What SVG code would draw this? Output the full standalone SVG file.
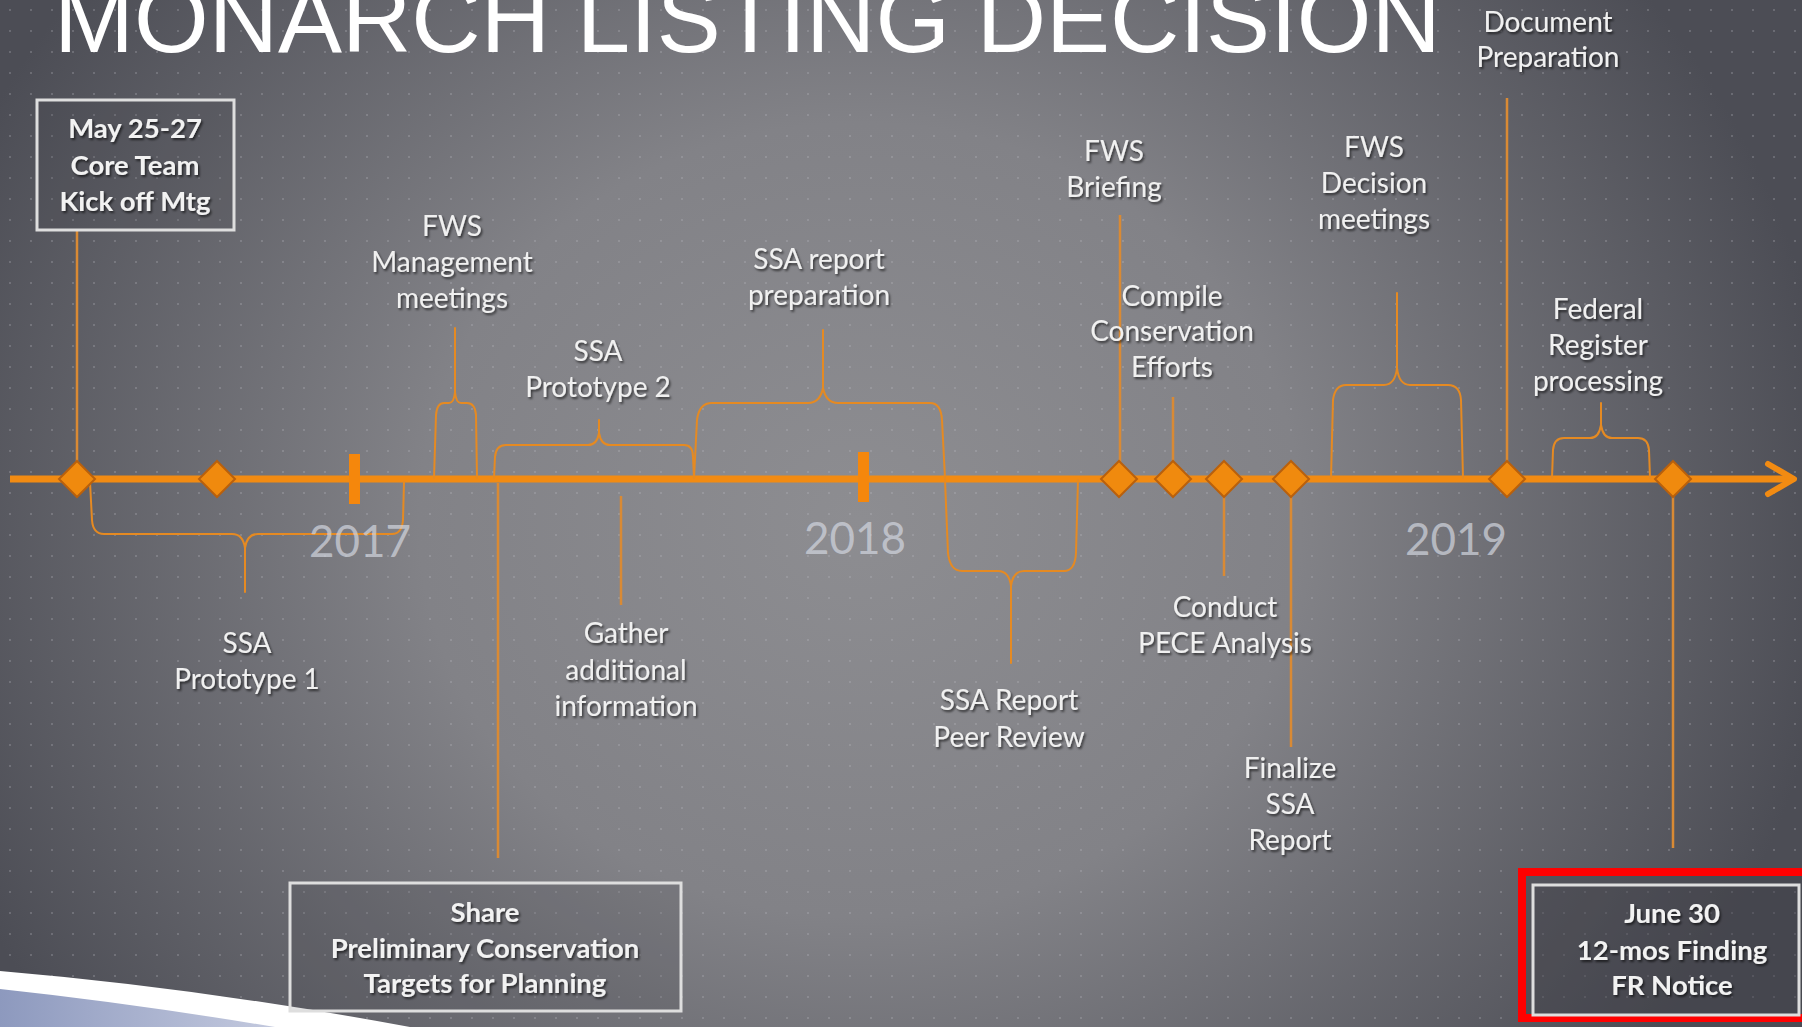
<svg xmlns="http://www.w3.org/2000/svg" width="1802" height="1027" viewBox="0 0 1802 1027">
  <defs>
    <radialGradient id="bg" gradientUnits="userSpaceOnUse" cx="860" cy="520" r="980" gradientTransform="translate(860 520) scale(1 0.9) translate(-860 -520)">
      <stop offset="0" stop-color="#8d8d91"/>
      <stop offset="0.45" stop-color="#828287"/>
      <stop offset="1" stop-color="#4c4d55"/>
    </radialGradient>
    <pattern id="dots" width="21" height="21" patternUnits="userSpaceOnUse">
      <circle cx="10" cy="10" r="1" fill="#c0c0c6" fill-opacity="0.35"/>
    </pattern>
    <linearGradient id="swoosh" x1="0" y1="0" x2="1" y2="0">
      <stop offset="0" stop-color="#8d99be"/>
      <stop offset="1" stop-color="#c3c9de"/>
    </linearGradient>
    <filter id="sh" x="-10%" y="-30%" width="120%" height="160%">
      <feDropShadow dx="1.5" dy="2" stdDeviation="1.2" flood-color="#000" flood-opacity="0.6"/>
    </filter>
    <style>
      .lbl { font-family: Lato, "Open Sans", sans-serif; font-size: 28px; fill: #f0f0f0; text-anchor: middle; filter: url(#sh); }
      .blbl { font-family: Lato, "Open Sans", sans-serif; font-size: 27.5px; font-weight: bold; fill: #f2f2f2; text-anchor: middle; filter: url(#sh); }
      .year { font-family: Lato, "Open Sans", sans-serif; font-size: 44px; fill: #d3d7e0; fill-opacity: 0.7; text-anchor: middle; }
      .box { fill: #3a3b44; fill-opacity: 0.15; stroke: #dedede; stroke-width: 3; }
      .brace { fill: none; stroke: #e58a22; stroke-width: 2; stroke-linejoin: round; stroke-linecap: round; }
      .stem { fill: none; stroke: #d98a34; stroke-width: 2.5; }
      .dia { fill: #f08a0e; stroke: #b9600c; stroke-width: 2; }
      .tick { fill: #f5870c; }
    </style>
  </defs>

  <rect x="0" y="0" width="1802" height="1027" fill="url(#bg)"/>
  <rect x="0" y="0" width="1802" height="1027" fill="url(#dots)"/>

  <g id="swoosh-deco">
    <path d="M0,971 Q200,988 410,1027 L0,1027 Z" fill="#ffffff"/>
    <path d="M0,989 Q130,1003 275,1027 L0,1027 Z" fill="url(#swoosh)"/>
  </g>

  <g id="title">
    <text x="54" y="52" font-family="'Liberation Sans', Arial, sans-serif" font-size="96" fill="#ffffff">MONARCH LISTING DECISION</text>
  </g>

  <g id="timeline">
    <line x1="10" y1="479" x2="1790" y2="479" stroke="#f28b12" stroke-width="7"/>
    <polyline points="1768,464 1794,479 1768,494" fill="none" stroke="#f28b12" stroke-width="6" stroke-linejoin="round" stroke-linecap="round"/>
    <rect class="tick" x="349" y="454" width="11" height="50"/>
    <rect class="tick" x="858" y="452" width="11" height="50"/>
  </g>

  <g id="connectors">
    <line class="stem" x1="77" y1="230" x2="77" y2="462"/>
    <line class="stem" x1="498" y1="483" x2="498" y2="858"/>
    <line class="stem" x1="621" y1="496" x2="621" y2="605"/>
    <line class="stem" x1="1120" y1="215" x2="1120" y2="462"/>
    <line class="stem" x1="1173" y1="397" x2="1173" y2="462"/>
    <line class="stem" x1="1224" y1="496" x2="1224" y2="576"/>
    <line class="stem" x1="1291" y1="496" x2="1291" y2="747"/>
    <line class="stem" x1="1507" y1="98" x2="1507" y2="462"/>
    <line class="stem" x1="1673" y1="496" x2="1673" y2="848"/>

    <!-- SSA Prototype 1 (below) -->
    <path class="brace" d="M90,482 L92,520 Q93,534 104,534 L232,534 Q243,534 245,548 L245,592 M245,548 Q247,534 258,534 L392,534 Q402,534 403,520 L404,482"/>
    <!-- FWS Management meetings (above) -->
    <path class="brace" d="M434,478 L436,415 Q437,403 444,403 L449,403 Q454,403 455,392 L455,328 M455,392 Q456,403 461,403 L467,403 Q475,403 476,415 L477,478"/>
    <!-- SSA Prototype 2 (above) -->
    <path class="brace" d="M494,478 L495,457 Q496,445 506,445 L588,445 Q597,445 599,433 L599,420 M599,433 Q601,445 610,445 L684,445 Q693,445 693,457 L694,478"/>
    <!-- SSA report preparation (above) -->
    <path class="brace" d="M694,478 L697,420 Q699,403 712,403 L808,403 Q820,403 823,388 L823,330 M823,388 Q826,403 838,403 L930,403 Q941,403 942,420 L945,478"/>
    <!-- SSA Report Peer Review (below) -->
    <path class="brace" d="M945,480 L948,553 Q950,571 962,571 L998,571 Q1009,571 1011,586 L1011,663 M1011,586 Q1013,571 1024,571 L1064,571 Q1075,571 1076,553 L1078,480"/>
    <!-- FWS Decision meetings (above) -->
    <path class="brace" d="M1331,478 L1333,400 Q1335,385 1346,385 L1384,385 Q1395,385 1397,368 L1397,293 M1397,368 Q1399,385 1410,385 L1448,385 Q1460,385 1461,400 L1463,478"/>
    <!-- Federal Register processing (above) -->
    <path class="brace" d="M1552,478 L1553,450 Q1554,438 1564,438 L1590,438 Q1599,438 1601,425 L1601,403 M1601,425 Q1603,438 1612,438 L1638,438 Q1648,438 1649,450 L1650,478"/>
  </g>

  <g id="milestones">
    <polygon id="m1" class="dia" points="77,461 95,479 77,497 59,479"/>
    <polygon id="m2" class="dia" points="217,461 235,479 217,497 199,479"/>
    <polygon id="m3" class="dia" points="1119,461 1137,479 1119,497 1101,479"/>
    <polygon id="m4" class="dia" points="1173,461 1191,479 1173,497 1155,479"/>
    <polygon id="m5" class="dia" points="1224,461 1242,479 1224,497 1206,479"/>
    <polygon id="m6" class="dia" points="1291,461 1309,479 1291,497 1273,479"/>
    <polygon id="m7" class="dia" points="1507,461 1525,479 1507,497 1489,479"/>
    <polygon id="m8" class="dia" points="1673,461 1691,479 1673,497 1655,479"/>
  </g>

  <g id="years">
    <text class="year" x="360" y="557">2017</text>
    <text class="year" x="855" y="554">2018</text>
    <text class="year" x="1456" y="555">2019</text>
  </g>

  <g id="node-kickoff">
    <rect class="box" x="37" y="100" width="197" height="130"/>
    <text class="blbl" x="135" y="138">May 25-27</text>
    <text class="blbl" x="135" y="175">Core Team</text>
    <text class="blbl" x="135" y="211">Kick off Mtg</text>
  </g>

  <g id="node-fws-management">
    <text class="lbl" x="452" y="236">FWS</text>
    <text class="lbl" x="452" y="272">Management</text>
    <text class="lbl" x="452" y="308">meetings</text>
  </g>

  <g id="node-ssa-prototype-2">
    <text class="lbl" x="598" y="361">SSA</text>
    <text class="lbl" x="598" y="397">Prototype 2</text>
  </g>

  <g id="node-ssa-report-prep">
    <text class="lbl" x="819" y="269">SSA report</text>
    <text class="lbl" x="819" y="305">preparation</text>
  </g>

  <g id="node-fws-briefing">
    <text class="lbl" x="1114" y="161">FWS</text>
    <text class="lbl" x="1114" y="197">Briefing</text>
  </g>

  <g id="node-compile">
    <text class="lbl" x="1172" y="306">Compile</text>
    <text class="lbl" x="1172" y="341">Conservation</text>
    <text class="lbl" x="1172" y="377">Efforts</text>
  </g>

  <g id="node-fws-decision">
    <text class="lbl" x="1374" y="157">FWS</text>
    <text class="lbl" x="1374" y="193">Decision</text>
    <text class="lbl" x="1374" y="229">meetings</text>
  </g>

  <g id="node-document-prep">
    <text class="lbl" x="1548" y="32">Document</text>
    <text class="lbl" x="1548" y="67">Preparation</text>
  </g>

  <g id="node-federal-register">
    <text class="lbl" x="1598" y="319">Federal</text>
    <text class="lbl" x="1598" y="355">Register</text>
    <text class="lbl" x="1598" y="391">processing</text>
  </g>

  <g id="node-ssa-prototype-1">
    <text class="lbl" x="247" y="653">SSA</text>
    <text class="lbl" x="247" y="689">Prototype 1</text>
  </g>

  <g id="node-gather">
    <text class="lbl" x="626" y="643">Gather</text>
    <text class="lbl" x="626" y="680">additional</text>
    <text class="lbl" x="626" y="716">information</text>
  </g>

  <g id="node-peer-review">
    <text class="lbl" x="1009" y="710">SSA Report</text>
    <text class="lbl" x="1009" y="747">Peer Review</text>
  </g>

  <g id="node-pece">
    <text class="lbl" x="1225" y="617">Conduct</text>
    <text class="lbl" x="1225" y="653">PECE Analysis</text>
  </g>

  <g id="node-finalize">
    <text class="lbl" x="1290" y="778">Finalize</text>
    <text class="lbl" x="1290" y="814">SSA</text>
    <text class="lbl" x="1290" y="850">Report</text>
  </g>

  <g id="node-share">
    <rect class="box" x="290" y="883" width="391" height="128"/>
    <text class="blbl" x="485" y="922">Share</text>
    <text class="blbl" x="485" y="958">Preliminary Conservation</text>
    <text class="blbl" x="485" y="993">Targets for Planning</text>
  </g>

  <g id="node-june30">
    <rect x="1522" y="872" width="300" height="146" fill="#3e3f48" fill-opacity="0.35" stroke="#ff0000" stroke-width="8"/>
    <rect class="box" x="1533" y="885" width="266" height="130"/>
    <text class="blbl" x="1672" y="923">June 30</text>
    <text class="blbl" x="1672" y="960">12-mos Finding</text>
    <text class="blbl" x="1672" y="995">FR Notice</text>
  </g>
</svg>
